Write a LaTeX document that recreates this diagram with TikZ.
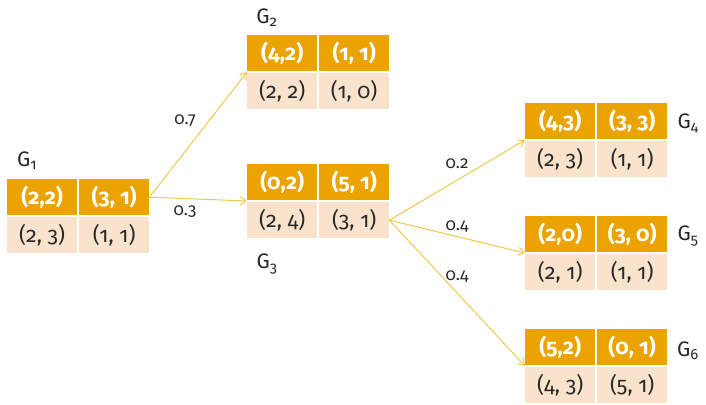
\documentclass[tikz,border=0pt]{standalone}
\usepackage{fontspec}
\setmainfont{Fira Sans}[Numbers=OldStyle]
\usetikzlibrary{arrows.meta,calc}
\definecolor{hdr}{RGB}{234,163,0}
\definecolor{low}{RGB}{249,227,205}
\definecolor{arr}{RGB}{240,200,80}
\definecolor{txt}{RGB}{40,40,40}
\tikzset{
  cellbase/.style={anchor=north west,inner sep=0pt,minimum width=70pt,minimum height=36pt,font=\fontsize{21.5}{23}\selectfont},
  hcell/.style={cellbase,fill=hdr,text=white,font=\fontsize{21.5}{23}\selectfont\bfseries},
  lcell/.style={cellbase,fill=low,text=txt},
  gname/.style={text=txt,font=\fontsize{21}{23}\selectfont,inner sep=0pt},
  plabel/.style={text=txt,font=\fontsize{17}{19}\selectfont,inner sep=0pt},
  edge/.style={draw=arr,line width=1pt,-{Straight Barb[length=6pt,width=8pt]}}
}
\newcommand{\gtable}[7]{%
  \node[hcell] (#1a) at (#2,#3) {#4};
  \node[hcell] (#1b) at (#2+72,#3) {#5};
  \node[lcell] (#1c) at (#2,#3+38) {#6};
  \node[lcell] (#1d) at (#2+72,#3+38) {#7};
  \coordinate (#1in) at ($(#2,#3+37)$);
}
\begin{document}
\begin{tikzpicture}[x=1pt,y=-1pt]
\useasboundingbox (0,0) rectangle (706,404);
\gtable{g1}{7}{179}{(2,2)}{(3, 1)}{(2, 3)}{(1, 1)}
\gtable{g2}{247}{35}{(4,2)}{(1, 1)}{(2, 2)}{(1, 0)}
\gtable{g3}{247}{164}{(0,2)}{(5, 1)}{(2, 4)}{(3, 1)}
\gtable{g4}{525}{103}{(4,3)}{(3, 3)}{(2, 3)}{(1, 1)}
\gtable{g5}{525}{216}{(2,0)}{(3, 0)}{(2, 1)}{(1, 1)}
\gtable{g6}{525}{329}{(5,2)}{(0, 1)}{(4, 3)}{(5, 1)}
\node[gname] (n1) at (27,161) {G\textsubscript{1}};
\node[gname] (n2) at (267,18) {G\textsubscript{2}};
\node[gname] (n3) at (267,264) {G\textsubscript{3}};
\node[gname] (n4) at (688,123) {G\textsubscript{4}};
\node[gname] (n5) at (688,236) {G\textsubscript{5}};
\node[gname] (n6) at (688,351) {G\textsubscript{6}};
\draw[edge] (g1b.east) -- (g2in);
\draw[edge] (g1b.east) -- (g3in);
\draw[edge] (g3d.east) -- (g4in);
\draw[edge] (g3d.east) -- (g5in);
\draw[edge] (g3d.east) -- (g6in);
\node[plabel] (p1) at (185,121) {0.7};
\node[plabel] (p2) at (185,212) {0.3};
\node[plabel] (p3) at (457,164) {0.2};
\node[plabel] (p4) at (457,227) {0.4};
\node[plabel] (p5) at (457,277) {0.4};
\end{tikzpicture}
\end{document}
